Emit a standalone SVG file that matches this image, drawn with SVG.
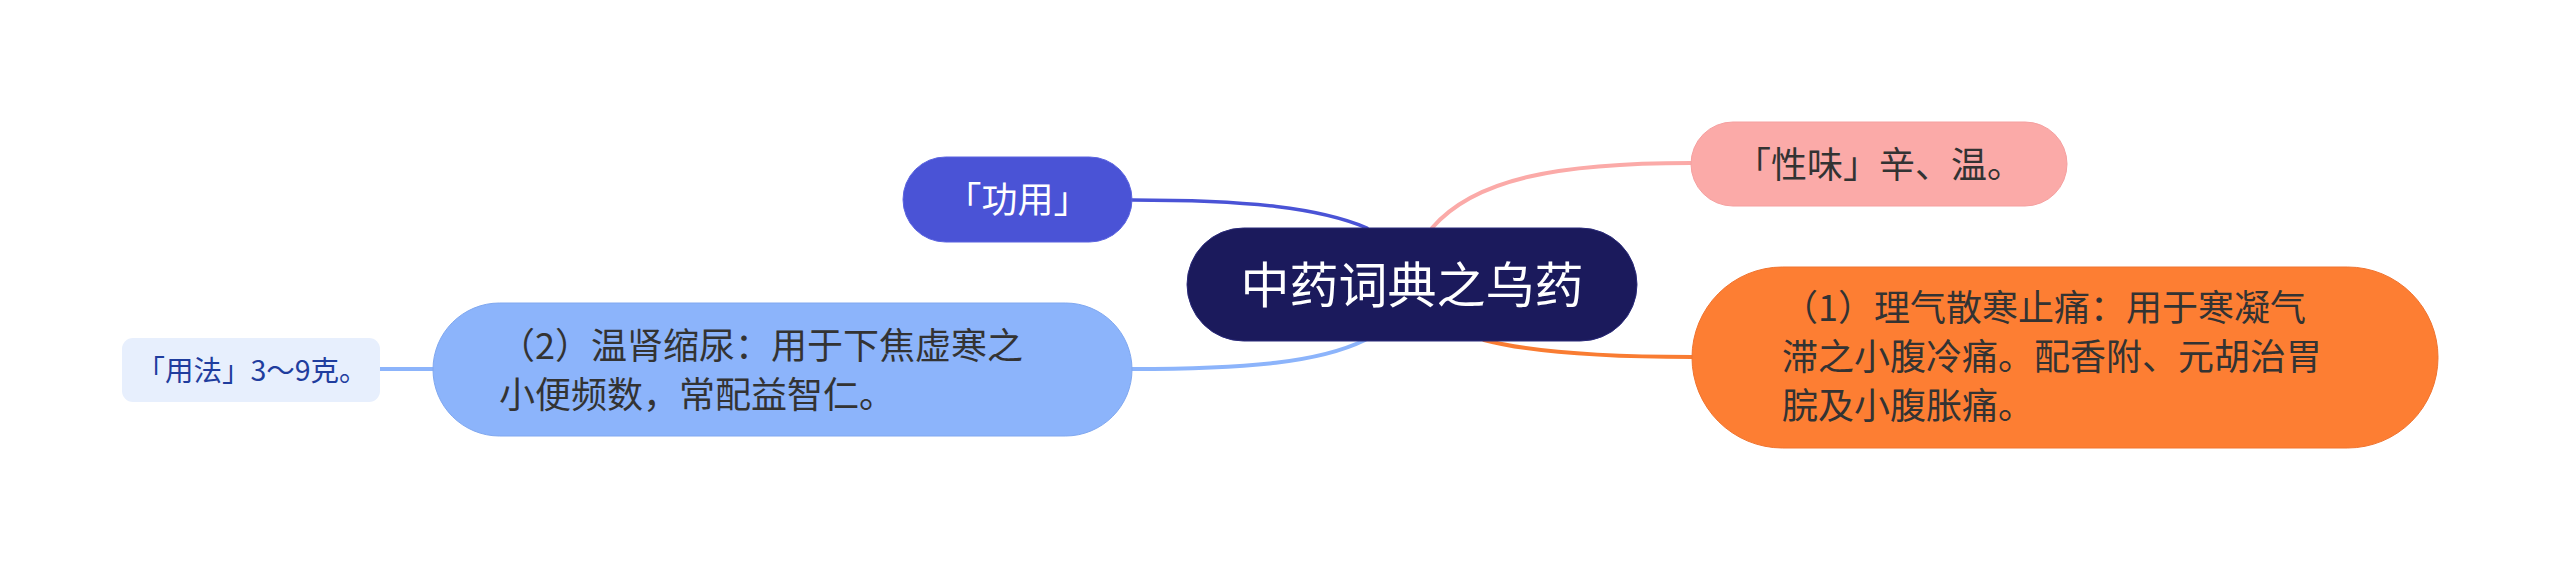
<svg xmlns="http://www.w3.org/2000/svg" width="2560" height="570" viewBox="0 0 2560 570">
<style>
text{font-family:"Noto Sans CJK SC","Noto Sans",sans-serif;}
.c{fill:none;stroke-linecap:round;}
.t{font-size:36px;fill:#333333;}
.m{text-anchor:middle;}
</style>
<rect width="2560" height="570" fill="#ffffff"/>
<g id="connectors">
<path class="c" d="M1132,200 C1250,200 1320,208 1367,228" stroke="#4a53d6" stroke-width="3.5"/>
<path class="c" d="M1432,228 C1475,178 1560,163 1691,163" stroke="#fbaaa8" stroke-width="4"/>
<path class="c" d="M1484,340 C1530,352 1600,357 1692,357" stroke="#f97c32" stroke-width="4"/>
<path class="c" d="M1132,369 C1250,369 1320,362 1365,340" stroke="#8cb4fb" stroke-width="4"/>
<path class="c" d="M380,369 L433,369" stroke="#8cb4fb" stroke-width="4"/>
</g>
<g id="root">
<rect x="1187" y="228" width="450" height="113" rx="56.5" fill="#1b1a5c" stroke="#2a2a7a" stroke-width="1"/>
<text class="m" x="1412" y="303" font-size="49" fill="#ffffff">中药词典之乌药</text>
</g>
<g id="gongyong">
<rect x="903" y="157" width="229" height="85" rx="42.5" fill="#4a53d6" stroke="#5a63e0" stroke-width="1"/>
<text class="m" x="1017.5" y="213" font-size="36" fill="#ffffff">「功用」</text>
</g>
<g id="xingwei">
<rect x="1691" y="122" width="376" height="84" rx="42" fill="#fbaaa8" stroke="#f5a0a0" stroke-width="1"/>
<text class="t m" x="1879" y="177.5">「性味」辛、温。</text>
</g>
<g id="zuoyong1">
<rect x="1692" y="267" width="746" height="181" rx="90.5" fill="#fd7e33" stroke="#f07430" stroke-width="1"/>
<text class="t" x="1782" y="321">（1）理气散寒止痛：用于寒凝气</text>
<text class="t" x="1782" y="370">滞之小腹冷痛。配香附、元胡治胃</text>
<text class="t" x="1782" y="419">脘及小腹胀痛。</text>
</g>
<g id="zuoyong2">
<rect x="433" y="303" width="699" height="133" rx="66.5" fill="#8cb4fb" stroke="#80a8f0" stroke-width="1"/>
<text class="t" x="499" y="359">（2）温肾缩尿：用于下焦虚寒之</text>
<text class="t" x="499" y="408">小便频数，常配益智仁。</text>
</g>
<g id="yongfa">
<rect x="122" y="338" width="258" height="64" rx="11" fill="#e7effd"/>
<text class="m" x="252" y="380.5" font-size="28.5" fill="#1f3d9e">「用法」3～9克。</text>
</g>
</svg>
